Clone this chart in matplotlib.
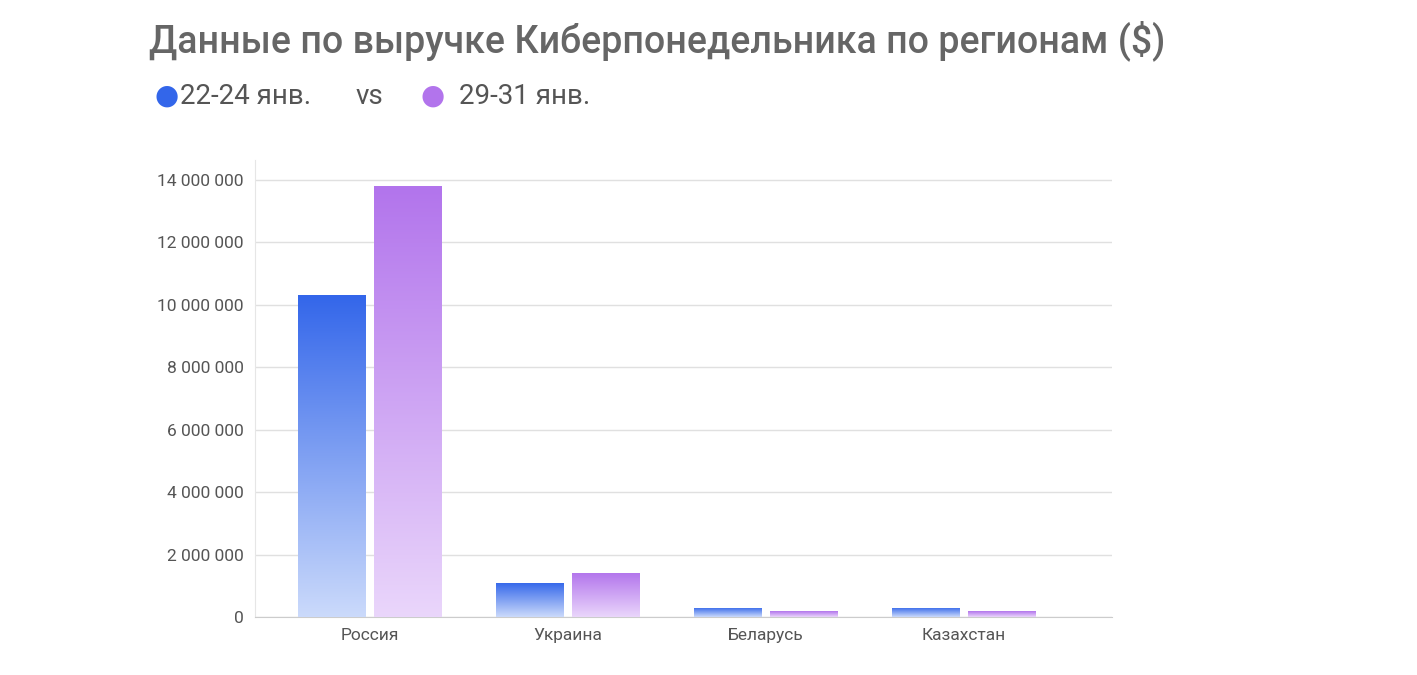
import matplotlib
matplotlib.use("Agg")
import matplotlib.pyplot as plt
import numpy as np
from matplotlib.colors import LinearSegmentedColormap
from matplotlib.ticker import FuncFormatter

categories = ["Россия", "Украина", "Беларусь", "Казахстан"]
series1 = [10320000, 1090000, 290000, 290000]
series2 = [13810000, 1410000, 190000, 190000]
labels = ["22-24 янв.", "29-31 янв."]

plt.rcParams['font.family'] = ['Roboto', 'DejaVu Sans']
fig = plt.figure(figsize=(14.17, 6.75), dpi=100)
ax = fig.add_axes([0.18, 0.0859, 0.6048, 0.677])

cm1 = LinearSegmentedColormap.from_list("b", ["#cbdafb", "#3366ea"])
cm2 = LinearSegmentedColormap.from_list("p", ["#ead6fb", "#b274ec"])
w = 0.343
x = np.arange(len(categories))
grad = np.linspace(0, 1, 256).reshape(-1, 1)
for xs, vals, cm in [(x - w/2 - 0.02, series1, cm1), (x + w/2 + 0.02, series2, cm2)]:
    bars = ax.bar(xs, vals, width=w, color="none", zorder=3)
    for b in bars:
        x0, y0 = b.get_x(), b.get_y()
        im = ax.imshow(grad, cmap=cm, origin="lower", aspect="auto",
                       extent=[x0, x0 + b.get_width(), y0, y0 + b.get_height()], zorder=3)
        im.set_clip_path(b)

ax.set_xlim(-0.58, 3.75)
ax.set_ylim(0, 14640000)
ax.set_yticks(np.arange(0, 14000001, 2000000))
ax.yaxis.set_major_formatter(FuncFormatter(lambda v, p: f"{int(v):,}".replace(",", " ")))
ax.set_xticks(x)
ax.set_xticklabels(categories)
ax.grid(axis="y", color="#e0e0e0", linewidth=1, zorder=0)
for s in ["top", "right"]:
    ax.spines[s].set_visible(False)
ax.spines["left"].set_color("#e6e6e6")
ax.spines["bottom"].set_color("#cccccc")
ax.tick_params(length=0, colors="#555555", labelsize=12.5, pad=8)

fig.text(0.105, 0.94, "Данные по выручке Кибернеделеника"[:0] + "Данные по выручке Киберпонедельника по регионам ($)",
         fontsize=27, fontweight="medium", color="#666666", va="center")
fig.text(0.109, 0.857, "●", fontsize=20, color="#3366ea", va="center")
fig.text(0.127, 0.857, labels[0], fontsize=20, color="#555555", va="center")
fig.text(0.251, 0.857, "vs", fontsize=20, color="#555555", va="center")
fig.text(0.297, 0.857, "●", fontsize=20, color="#b274ec", va="center")
fig.text(0.324, 0.857, labels[1], fontsize=20, color="#555555", va="center")

fig.savefig("out.png", dpi=100)
